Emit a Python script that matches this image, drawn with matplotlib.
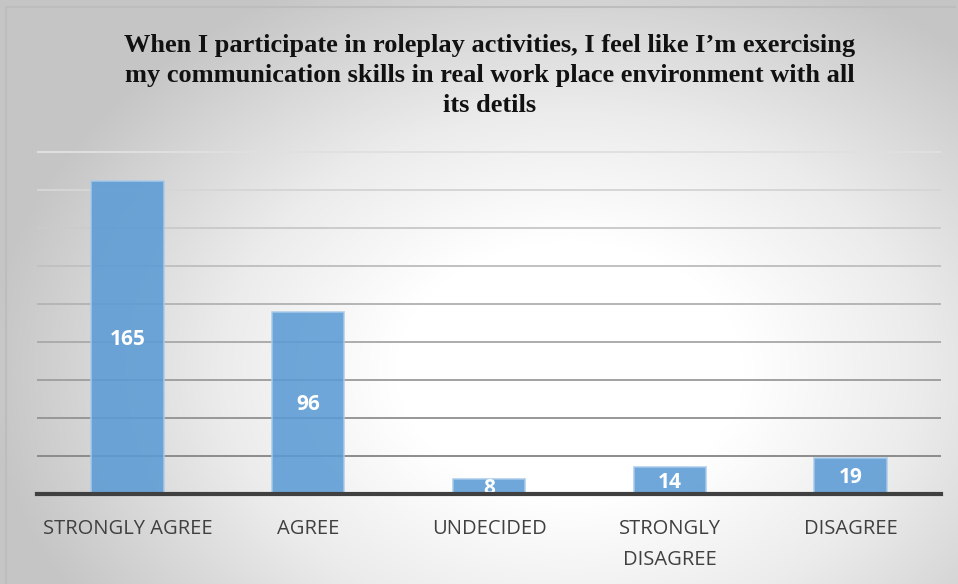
import numpy as np
import matplotlib.pyplot as plt
from matplotlib.colors import LinearSegmentedColormap

categories = ['STRONGLY AGREE', 'AGREE', 'UNDECIDED', 'STRONGLY\nDISAGREE', 'DISAGREE']
counts = [165, 96, 8, 14, 19]
grid_levels = [20, 40, 60, 80, 100, 120, 140, 160, 180]

title = ('When I participate in roleplay activities, I feel like I\u2019m exercising\n'
         'my communication skills in real work place environment with all\n'
         'its detils')

fig = plt.figure(figsize=(9.58, 5.84), dpi=100)

# radial grey-to-white background behind the whole chart
bg = fig.add_axes([0, 0, 1, 1], zorder=-10)
w, h = 958, 584
xx, yy = np.meshgrid(np.arange(w), np.arange(h))
r = np.sqrt(((xx - 570) / 580.0) ** 2 + ((yy - 370) / 430.0) ** 2)
r = np.clip(r, 0, 1)
cmap = LinearSegmentedColormap.from_list(
    'bg', [(0, '#ffffff'), (0.3, '#ffffff'), (0.6, '#ececec'), (1, '#c6c6c6')])
bg.imshow(r, cmap=cmap, vmin=0, vmax=1, aspect='auto', extent=[0, 1, 0, 1], origin='upper')
bg.plot([0.006, 0.006, 0.997], [0, 0.988, 0.988], color='#bdbdbd', lw=1.5)
bg.set_xlim(0, 1)
bg.set_ylim(0, 1)
bg.axis('off')

ax = fig.add_axes([37 / w, 1 - 494 / h, 904 / w, (494 - 137) / h])
ax.patch.set_alpha(0)

# gridlines fade from dark near the axis to pale at the top
for i, g in enumerate(grid_levels):
    t = i / (len(grid_levels) - 1)
    c = 0.55 + 0.33 * t
    ax.axhline(g, color=(c, c, c), lw=1.4, zorder=0)

x = np.arange(len(categories))
bars = ax.bar(x, counts, width=0.4, color='#5b9bd5', alpha=0.88,
              edgecolor='#a9cbea', linewidth=1.2, zorder=2)

for b, v in zip(bars, counts):
    ax.text(b.get_x() + b.get_width() / 2, v / 2 - 1, str(v), ha='center', va='center',
            color='white', fontsize=15, fontweight='bold', family='Open Sans', zorder=3)

ax.set_xlim(-0.5, len(categories) - 0.5)
ax.set_ylim(0, 188)
ax.set_yticks([])
ax.tick_params(axis='x', length=0, pad=18)
ax.set_xticks(x)
ax.set_xticklabels(categories, fontsize=14.5, color='#404040', family='Open Sans',
                   linespacing=1.75, va='top')

for s in ['top', 'right', 'left']:
    ax.spines[s].set_visible(False)
ax.spines['bottom'].set_color('#404040')
ax.spines['bottom'].set_linewidth(3)
ax.spines['bottom'].set_zorder(4)

fig.text(0.511, 0.941, title, ha='center', va='top', fontsize=19, fontweight='bold',
         family='Liberation Serif', color='#111111', linespacing=1.38)

fig.savefig('out.png', dpi=100)
